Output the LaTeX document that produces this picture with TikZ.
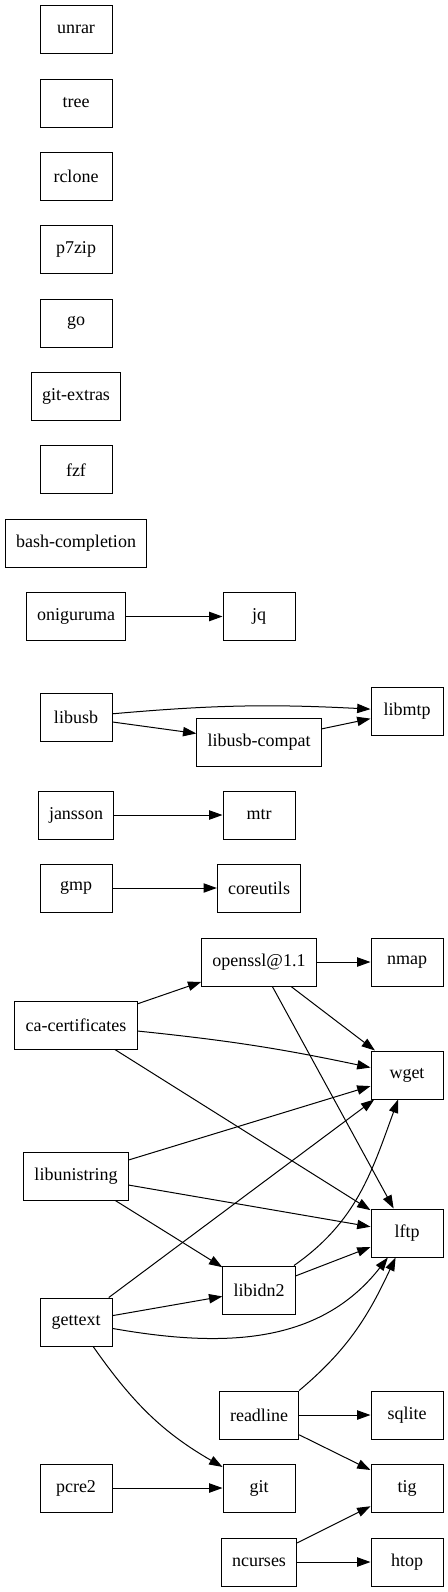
\documentclass[tikz,border=0pt]{standalone}
\usepackage{fontspec}
\setmainfont{Liberation Serif}
\usetikzlibrary{arrows.meta}
\begin{document}
\begin{tikzpicture}[x=0.75pt,y=0.75pt,pkg/.style={draw,rectangle,line
        width=0.75pt,minimum width=54pt,minimum height=36pt,inner
        xsep=8pt,font=\fontsize{13.5}{16}\selectfont},dep/.style={-{Triangle[length=10pt,width=7pt]},line
        width=0.75pt}]
    \useasboundingbox (0,0) rectangle (448,-1592);

    \node[pkg] (unrar) at (76,-29.7) {unrar};
    \node[pkg] (tree) at (76,-103) {tree};
    \node[pkg] (rclone) at (76,-176.3) {rclone};
    \node[pkg] (p7zip) at (76,-249.7) {p7zip};
    \node[pkg] (go) at (76,-323) {go};
    \node[pkg] (gitextras) at (76,-396.3) {git-extras};
    \node[pkg] (fzf) at (76,-469.7) {fzf};
    \node[pkg] (bashcomp) at (76,-543) {bash-completion};

    \node[pkg] (oniguruma) at (76,-616.5) {oniguruma};
    \node[pkg] (jq) at (259,-616.5) {jq};
    \node[pkg] (libusb) at (76,-717) {libusb};
    \node[pkg] (libusbcompat) at (259,-742) {libusb-compat};
    \node[pkg] (libmtp) at (407,-711) {libmtp};
    \node[pkg] (jansson) at (76,-815) {jansson};
    \node[pkg] (mtr) at (259,-815) {mtr};
    \node[pkg] (gmp) at (76,-888) {gmp};
    \node[pkg] (coreutils) at (259,-888) {coreutils};

    \node[pkg] (openssl) at (259,-962) {openssl@1.1};
    \node[pkg] (nmap) at (407,-962) {nmap};
    \node[pkg] (cacert) at (76,-1025) {ca-certificates};
    \node[pkg] (wget) at (407,-1075) {wget};
    \node[pkg] (libunistring) at (76,-1176) {libunistring};
    \node[pkg] (lftp) at (407,-1233) {lftp};
    \node[pkg] (libidn2) at (259,-1290) {libidn2};
    \node[pkg] (gettext) at (76,-1322) {gettext};
    \node[pkg] (readline) at (259,-1415) {readline};
    \node[pkg] (sqlite) at (407,-1415) {sqlite};
    \node[pkg] (pcre2) at (76,-1488) {pcre2};
    \node[pkg] (git) at (259,-1488) {git};
    \node[pkg] (tig) at (407,-1488) {tig};
    \node[pkg] (ncurses) at (259,-1562) {ncurses};
    \node[pkg] (htop) at (407,-1562) {htop};

    \draw[dep] (oniguruma) -- (jq);
    \draw[dep] (libusb) to[bend left=4] (libmtp);
    \draw[dep] (libusb) -- (libusbcompat);
    \draw[dep] (libusbcompat) -- (libmtp);
    \draw[dep] (jansson) -- (mtr);
    \draw[dep] (gmp) -- (coreutils);

    \draw[dep] (cacert) -- (openssl);
    \draw[dep] (openssl) -- (nmap);
    \draw[dep] (openssl) -- (wget);
    \draw[dep] (openssl) -- (lftp);
    \draw[dep] (cacert) to[bend left=3] (wget);
    \draw[dep] (cacert) -- (lftp);
    \draw[dep] (libunistring) -- (wget);
    \draw[dep] (libunistring) -- (lftp);
    \draw[dep] (libunistring) -- (libidn2);
    \draw[dep] (gettext) -- (wget);
    \draw[dep] (gettext) -- (libidn2);
    \draw[dep] (gettext) to[out=-10,in=-128] (lftp);
    \draw[dep] (gettext) to[out=-55,in=150] (git);
    \draw[dep] (libidn2) to[out=35,in=-110] (wget);
    \draw[dep] (libidn2) -- (lftp);
    \draw[dep] (readline.north east) to[out=40,in=-115] (lftp);
    \draw[dep] (readline) -- (sqlite);
    \draw[dep] (readline) -- (tig);
    \draw[dep] (pcre2) -- (git);
    \draw[dep] (ncurses) -- (tig);
    \draw[dep] (ncurses) -- (htop);

  \end{tikzpicture}
\end{document}
